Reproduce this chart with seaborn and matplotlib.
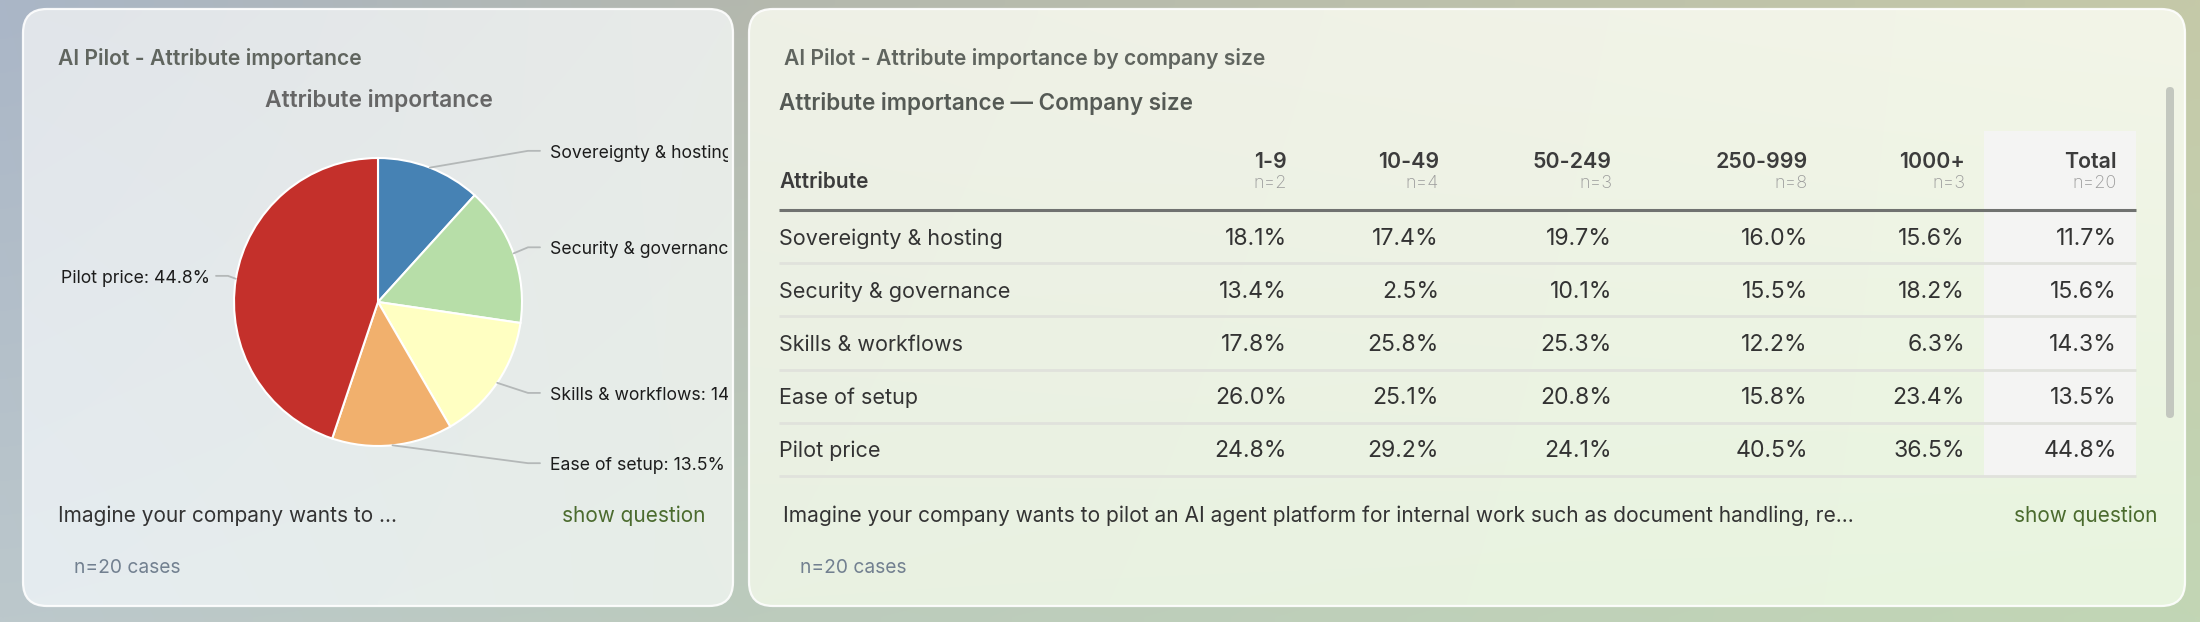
import numpy as np
import matplotlib
matplotlib.use("Agg")
import matplotlib.pyplot as plt
import seaborn as sns
from matplotlib.patches import FancyBboxPatch, Rectangle
from matplotlib.colors import to_rgb
from matplotlib.transforms import Bbox, TransformedBbox

# ---------------- data ----------------
attributes = ["Sovereignty & hosting", "Security & governance", "Skills & workflows",
              "Ease of setup", "Pilot price"]
total_share = [11.7, 15.6, 14.3, 13.5, 44.8]
size_groups = ["1-9", "10-49", "50-249", "250-999", "1000+"]
group_n = [2, 4, 3, 8, 3]
total_n = 20
share_1_9 = [18.1, 13.4, 17.8, 26.0, 24.8]
share_10_49 = [17.4, 2.5, 25.8, 25.1, 29.2]
share_50_249 = [19.7, 10.1, 25.3, 20.8, 24.1]
share_250_999 = [16.0, 15.5, 12.2, 15.8, 40.5]
share_1000_plus = [15.6, 18.2, 6.3, 23.4, 36.5]
pie_colors = ["#4682b4", "#b7dea8", "#ffffc2", "#f1b06d", "#c4302b"]

left_title = "AI Pilot - Attribute importance"
pie_title = "Attribute importance"
right_title = "AI Pilot - Attribute importance by company size"
table_title = "Attribute importance \u2014 Company size"
question_short = "Imagine your company wants to ..."
question_long = ("Imagine your company wants to pilot an AI agent platform for internal "
                 "work such as document handling, re...")
cases_label = "n=20 cases"
show_label = "show question"

# ---------------- style ----------------
sns.set_theme(style="white")
plt.rcParams['font.family'] = ['Inter', 'DejaVu Sans']

W, H = 2200, 622
fig = plt.figure(figsize=(22, 6.22), dpi=100)
ax = fig.add_axes([0, 0, 1, 1])
ax.set_xlim(0, W)
ax.set_ylim(0, H)
ax.axis('off')


def Y(y):
    return H - y


def gradient(top_stops, bottom_stops, nx=220, ny=64):
    xs = np.linspace(0, 1, nx)

    def row(stops):
        fr = [s[0] for s in stops]
        cols = np.array([to_rgb(s[1]) for s in stops])
        return np.stack([np.interp(xs, fr, cols[:, k]) for k in range(3)], axis=-1)
    top, bot = row(top_stops), row(bottom_stops)
    t = np.linspace(0, 1, ny)[:, None, None]
    return top[None] * (1 - t) + bot[None] * t


# page background
bg = gradient([(0, "#aab6c7"), (0.34, "#b4b8ae"), (1, "#c5c9a8")],
              [(0, "#bcc8cc"), (0.34, "#bccbbd"), (1, "#c2d6b5")])
ax.imshow(bg, extent=[0, W, 0, H], aspect='auto', origin='upper', zorder=0,
          interpolation='bilinear')


def card(x0, x1, y0, y1, top_stops, bottom_stops):
    patch = FancyBboxPatch((x0, Y(y1)), x1 - x0, y1 - y0,
                           boxstyle="round,pad=0,rounding_size=24",
                           facecolor='none', edgecolor='none', zorder=1)
    ax.add_patch(patch)
    im = ax.imshow(gradient(top_stops, bottom_stops), extent=[x0, x1, Y(y1), Y(y0)],
                   aspect='auto', origin='upper', zorder=1, interpolation='bilinear')
    im.set_clip_path(patch)
    border = FancyBboxPatch((x0, Y(y1)), x1 - x0, y1 - y0,
                            boxstyle="round,pad=0,rounding_size=24",
                            facecolor='none', edgecolor='white', lw=1.6, alpha=0.9,
                            zorder=1.5)
    ax.add_patch(border)
    return patch


left_card = card(23, 733, 9, 606,
                 [(0, "#e1e5ea"), (1, "#e8ebe8")],
                 [(0, "#e5ecf0"), (1, "#e7eee7")])
right_card = card(749, 2185, 9, 606,
                  [(0, "#eef0e6"), (1, "#f3f5e8")],
                  [(0, "#e9f1e2"), (1, "#e8f5df")])

# ---------------- left card: pie ----------------
ax.text(58, Y(65), left_title, fontsize=15.2, fontweight='semibold', color='#60655f',
        va='baseline', ha='left', zorder=3)
ax.text(379, Y(107), pie_title, fontsize=16.4, fontweight='semibold', color='#666666',
        va='baseline', ha='center', zorder=3)

cx, cy, r = 378, Y(302), 144
wedges, _ = ax.pie(total_share, colors=pie_colors, startangle=90, counterclock=False,
                   center=(cx, cy), radius=r, frame=True,
                   wedgeprops=dict(edgecolor='white', linewidth=1.5, zorder=2))
ax.set_xlim(0, W)
ax.set_ylim(0, H)
ax.set_aspect('auto')
ax.set_position([0, 0, 1, 1])
ax.axis('off')

label_clip = TransformedBbox(Bbox([[23, 0], [728, H]]), ax.transData)
R = 162
for w, name, val in zip(wedges, attributes, total_share):
    w.set_zorder(2)
    th = np.deg2rad((w.theta1 + w.theta2) / 2)
    ex, ey = cx + r * np.cos(th), cy + r * np.sin(th)
    side = 1 if np.cos(th) >= 0 else -1
    ly = cy + R * np.sin(th)
    ax.plot([ex, cx + side * (R - 12), cx + side * R], [ey, ly, ly],
            color='#b4b8b8', lw=1.3, zorder=2, solid_capstyle='round')
    gap = 10 if side > 0 else 6
    t = ax.text(cx + side * (R + gap), ly - 7, f"{name}: {val:.1f}%", fontsize=12.7,
                color='#1c1c1c', ha='left' if side > 0 else 'right', va='baseline',
                zorder=3)
    t.set_clip_path(None)
    t.set_clip_box(label_clip)
    t.set_clip_on(True)

ax.text(58, Y(522), question_short, fontsize=15, color='#333333', va='baseline',
        ha='left', zorder=3)
ax.text(706, Y(522), show_label, fontsize=15, color='#4b6b2e', va='baseline',
        ha='right', zorder=3)
ax.text(74, Y(573), cases_label, fontsize=13.8, color='#728090', va='baseline',
        ha='left', zorder=3)

# ---------------- right card: table ----------------
ax.text(784, Y(65), right_title, fontsize=15.2, fontweight='semibold', color='#60655f',
        va='baseline', ha='left', zorder=3)
ax.text(779, Y(110), table_title, fontsize=16.2, fontweight='semibold', color='#555a55',
        va='baseline', ha='left', zorder=3)

col_right = [1287, 1439, 1612, 1808, 1965, 2117]
table_left, table_right = 779, 2136
header_line_y = 210
row_base0, row_step = 245, 53

columns = [share_1_9, share_10_49, share_50_249, share_250_999, share_1000_plus, total_share]
headers = size_groups + ["Total"]
ns = group_n + [total_n]

# Total column highlight
ax.add_patch(Rectangle((1984, Y(476)), table_right - 1984, 476 - 131,
                       facecolor='#f4f4f3', edgecolor='none', zorder=2))

ax.text(table_left, Y(188), "Attribute", fontsize=15, fontweight='semibold',
        color='#3c3c3c', va='baseline', ha='left', zorder=3)
for xr, hd, n in zip(col_right, headers, ns):
    ax.text(xr, Y(168), hd, fontsize=15.4, fontweight='semibold', color='#3c3c3c',
            va='baseline', ha='right', zorder=3)
    ax.text(xr, Y(188), f"n={n}", fontsize=13, fontweight='light', color='#9a9a9a',
            va='baseline', ha='right', zorder=3)

ax.plot([table_left, table_right], [Y(header_line_y)] * 2, color='#707270', lw=2.2,
        zorder=3, solid_capstyle='butt')

for i, name in enumerate(attributes):
    base = row_base0 + row_step * i
    ax.text(table_left, Y(base), name, fontsize=15.5, color='#333333', va='baseline',
            ha='left', zorder=3)
    for xr, col in zip(col_right, columns):
        ax.text(xr, Y(base), f"{col[i]:.1f}%", fontsize=16.6, color='#333333',
                va='baseline', ha='right', zorder=3)
    line_y = base + 18 + (1 if i >= 2 else 0)
    ax.plot([table_left, table_right], [Y(line_y)] * 2, color='#e0e2dc', lw=2,
            zorder=3, solid_capstyle='butt')

# scrollbar
ax.add_patch(FancyBboxPatch((2166, Y(418)), 8, 418 - 87,
                            boxstyle="round,pad=0,rounding_size=4",
                            facecolor='#c3c7bf', edgecolor='none', zorder=3))

ax.text(783, Y(522), question_long, fontsize=15.1, color='#333333', va='baseline',
        ha='left', zorder=3)
ax.text(2157, Y(522), show_label, fontsize=15, color='#4b6b2e', va='baseline',
        ha='right', zorder=3)
ax.text(800, Y(573), cases_label, fontsize=13.8, color='#728090', va='baseline',
        ha='left', zorder=3)

fig.savefig("out.png", dpi=100)
